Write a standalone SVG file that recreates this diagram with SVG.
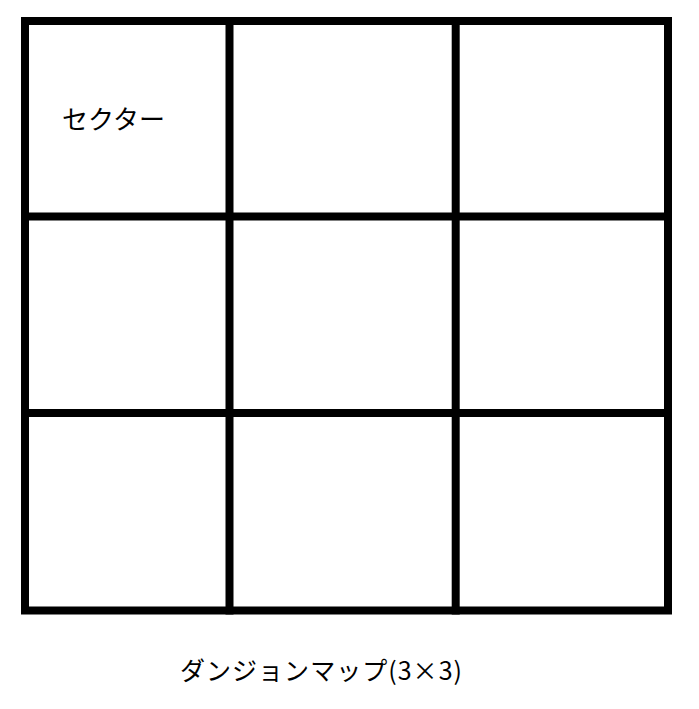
<svg xmlns="http://www.w3.org/2000/svg" width="699" height="709" viewBox="0 0 699 709">
<style>
.grid{fill:none;stroke:#000;stroke-width:8;stroke-linecap:square}
.t{font-family:"Noto Sans CJK JP","Liberation Sans",sans-serif;font-size:25px;fill:#000}
</style>
<rect width="699" height="709" fill="#fff"/>
<g id="map">
<rect class="grid" x="25" y="21" width="643" height="589.5"/>
<g id="connectors">
<line class="grid" x1="229.5" y1="21" x2="229.5" y2="610.5"/>
<line class="grid" x1="455.7" y1="21" x2="455.7" y2="610.5"/>
<line class="grid" x1="25" y1="216.5" x2="668" y2="216.5"/>
<line class="grid" x1="25" y1="413" x2="668" y2="413"/>
</g>
</g>
<g id="sector"><text class="t" x="62" y="129" style="font-size:26px">セクター</text></g>
<g id="caption"><text class="t" x="180" y="680" textLength="282" lengthAdjust="spacing">ダンジョンマップ(3×3)</text></g>
</svg>
